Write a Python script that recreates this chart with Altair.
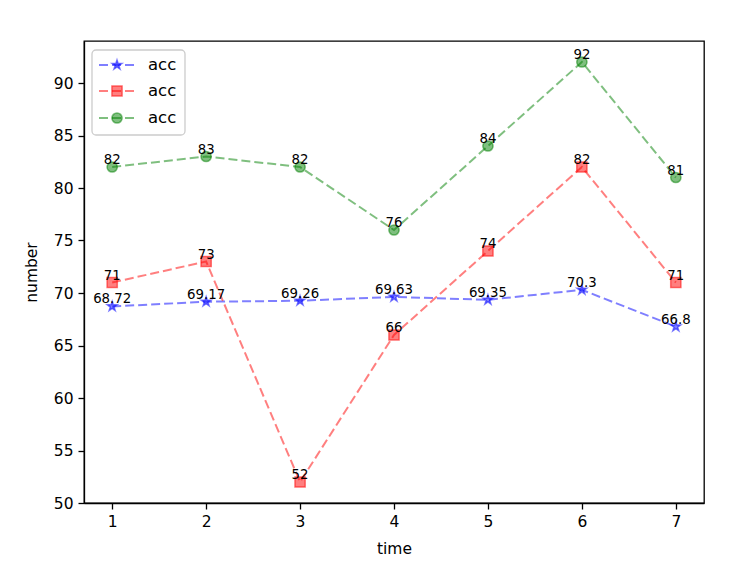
import altair as alt
import pandas as pd

times = [1, 2, 3, 4, 5, 6, 7]
blue_vals = [68.72, 69.17, 69.26, 69.63, 69.35, 70.3, 66.8]
blue_labels = ["68.72", "69.17", "69.26", "69.63", "69.35", "70.3", "66.8"]
red_vals = [71, 73, 52, 66, 74, 82, 71]
red_labels = ["71", "73", "52", "66", "74", "82", "71"]
green_vals = [82, 83, 82, 76, 84, 92, 81]
green_labels = ["82", "83", "82", "76", "84", "92", "81"]

series_keys = ["s1", "s2", "s3"]
legend_names = ["acc", "acc", "acc"]
colors = ["#0000ff", "#ff0000", "#008000"]
STAR = ("M0,-1L0.2245,-0.309L0.951,-0.309L0.3633,0.118L0.5878,0.809L0,0.382"
        "L-0.5878,0.809L-0.3633,0.118L-0.951,-0.309L-0.2245,-0.309Z")
shapes = [STAR, "square", "circle"]
x_ticks = [1, 2, 3, 4, 5, 6, 7]
y_ticks = [50, 55, 60, 65, 70, 75, 80, 85, 90]

rows = []
for key, vals, labs in zip(series_keys, [blue_vals, red_vals, green_vals],
                           [blue_labels, red_labels, green_labels]):
    for t, v, l in zip(times, vals, labs):
        rows.append({"series": key, "time": t, "value": v, "label": l})
df = pd.DataFrame(rows)

FONT = "DejaVu Sans"
color_sc = alt.Scale(domain=series_keys, range=colors)
shape_sc = alt.Scale(domain=series_keys, range=shapes)

x_enc = alt.X("time:Q", scale=alt.Scale(domain=[0.7, 7.3], nice=False, zero=False),
              axis=alt.Axis(values=x_ticks, format="d", title="time"))
y_enc = alt.Y("value:Q", scale=alt.Scale(domain=[50, 94], nice=False, zero=False),
              axis=alt.Axis(values=y_ticks, format="d", title="number"))

base = alt.Chart(df)
lines = base.mark_line(strokeWidth=2, strokeDash=[9, 4], opacity=0.5).encode(
    x=x_enc, y=y_enc,
    color=alt.Color("series:N", scale=color_sc, legend=None),
)
points = base.mark_point(filled=True, size=105, fillOpacity=0.5, strokeOpacity=0.5,
                         strokeWidth=1.5).encode(
    x=x_enc, y=y_enc,
    color=alt.Color("series:N", scale=color_sc, legend=None),
    stroke=alt.Stroke("series:N", scale=color_sc, legend=None),
    shape=alt.Shape("series:N", scale=shape_sc, legend=None),
)
labels = base.mark_text(baseline="alphabetic", dy=-3, fontSize=13.3, font=FONT,
                        color="black").encode(
    x=x_enc, y=y_enc, text="label:N",
)

layers = [lines, points, labels]

one = pd.DataFrame({"k": [0]})
leg_box = alt.Chart(one).mark_rect(fill="white", fillOpacity=0.8, stroke="#cccccc",
                                   strokeWidth=1.3, cornerRadius=4).encode(
    x=alt.value(8), x2=alt.value(101), y=alt.value(9), y2=alt.value(94))
layers.append(leg_box)

row_y = [24, 50, 77]
for name, col, shp, yy in zip(legend_names, colors, shapes, row_y):
    layers.append(alt.Chart(one).mark_rule(strokeWidth=2, strokeDash=[9, 4], opacity=0.5,
                                           color=col).encode(
        x=alt.value(15), x2=alt.value(50), y=alt.value(yy)))
    layers.append(alt.Chart(one).mark_point(filled=True, size=105, fillOpacity=0.5,
                                            strokeOpacity=0.5, strokeWidth=1.5,
                                            color=col, stroke=col, shape=shp).encode(
        x=alt.value(33), y=alt.value(yy)))
    layers.append(alt.Chart(one).mark_text(align="left", baseline="middle", fontSize=16.5,
                                           font=FONT, color="black", text=name).encode(
        x=alt.value(64), y=alt.value(yy)))

chart = alt.layer(*layers).properties(
    width=620, height=462,
    autosize=alt.AutoSizeParams(type="none"),
    padding={"left": 76, "top": 33, "right": 29, "bottom": 54},
).configure_view(stroke="black", strokeWidth=1.3).configure_axis(
    grid=False, labelFont=FONT, labelFontSize=15.5, labelColor="black",
    titleFont=FONT, titleFontSize=15.5, titleFontWeight="normal", titleColor="black",
    domainColor="black", domainWidth=1.3, tickColor="black", tickWidth=1.3, tickSize=6,
    labelPadding=5,
).configure_axisX(titlePadding=12).configure_axisY(titlePadding=14)

chart.save("out.html", embed_options={"renderer": "svg", "actions": False})
